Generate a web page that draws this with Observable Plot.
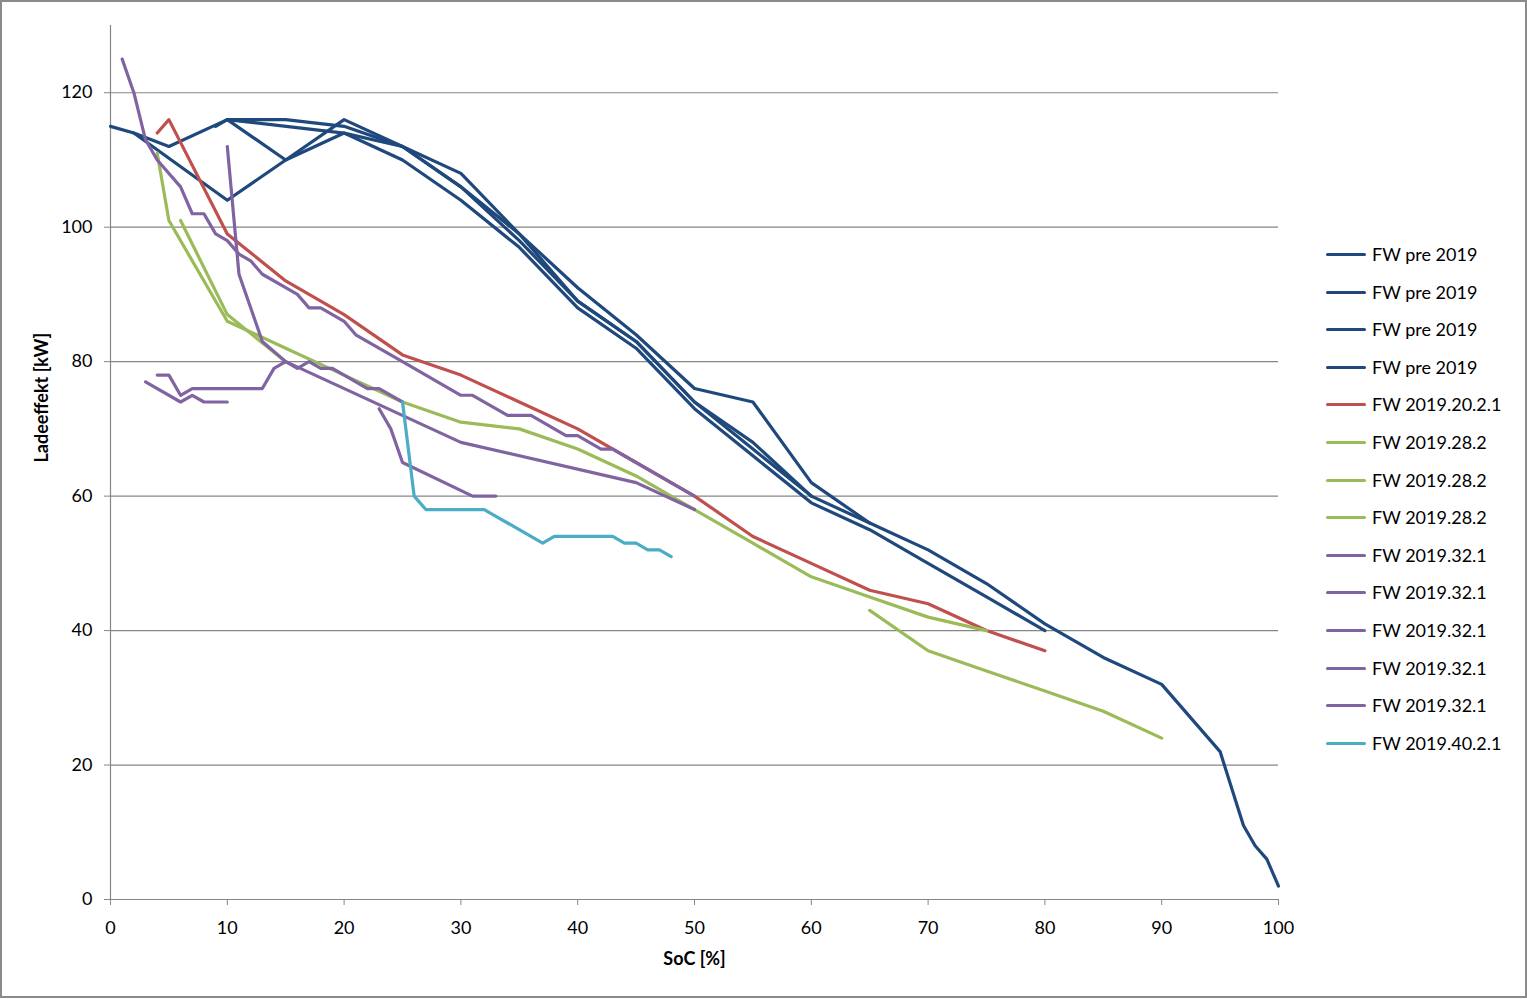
<!DOCTYPE html>
<html>
<head>
<meta charset="utf-8">
<script src="https://cdn.jsdelivr.net/npm/d3@7"></script>
<script src="https://cdn.jsdelivr.net/npm/@observablehq/plot@0.6"></script>
<style>
  html, body { margin: 0; padding: 0; background: #fff; }
  #wrap { position: relative; width: 1527px; height: 999px; font-family: Lato, "Noto Sans", sans-serif; }
  #chart { position: absolute; left: 0; top: 0; }
  #legend { position: absolute; left: 1326px; top: 0; }
  .item { position: absolute; left: 0; height: 24px; white-space: nowrap; font-size: 18px; line-height: 24px; color: #000; }
  .sw { position: absolute; left: 0; top: 11px; width: 40px; height: 3px; border-radius: 1.5px; }
  .lbl { position: absolute; left: 46px; top: 0; }
  #border { position: absolute; left: 0; top: 0; width: 1527px; height: 998px; box-sizing: border-box; border: 2px solid #8a8a8a; pointer-events: none; }
</style>
</head>
<body>
<div id="wrap">
  <div id="chart"></div>
  <div id="legend"></div>
  <div id="border"></div>
</div>
<script>
// ---- data: [SoC %, charging power kW] ----
const pre2019_a = [[0,115],[2,114],[5,112],[10,116],[15,116],[20,115],[25,112],[30,108],[35,99],[40,91],[45,84],[50,76],[55,74],[60,62],[65,56],[70,52],[75,47],[80,41],[85,36],[90,32],[95,22],[97,11],[98,8],[99,6],[100,2]];
const pre2019_b = [[2,114],[10,104],[15,110],[20,114],[25,110],[30,104],[35,97],[40,88],[45,82],[50,73],[55,66],[60,59],[65,55],[70,50],[75,45],[80,40]];
const pre2019_c = [[9,115],[10,116],[15,110],[20,116],[25,112],[30,106],[35,99],[40,89],[45,83],[50,74],[55,68],[60,60],[65,56]];
const pre2019_d = [[10,116],[20,114],[25,112],[30,106],[35,98],[40,89],[45,83],[50,74],[55,67],[60,60]];
const fw2019_20_2_1 = [[4,114],[5,116],[10,99],[15,92],[20,87],[25,81],[30,78],[35,74],[40,70],[45,65],[50,60],[55,54],[60,50],[65,46],[70,44],[75,40],[80,37]];
const fw2019_28_2_a = [[4,111],[5,101],[10,86],[15,82],[20,78],[25,74],[30,71],[35,70],[40,67],[45,63],[50,58],[55,53],[60,48],[65,45],[70,42],[75,40]];
const fw2019_28_2_b = [[6,101],[10,87],[15,80]];
const fw2019_28_2_c = [[65,43],[70,37],[75,34],[80,31],[85,28],[90,24]];
const fw2019_32_1_a = [[1,125],[2,120],[3,113],[4,110],[6,106],[7,102],[8,102],[9,99],[10,98],[11,96],[12,95],[13,93],[15,91],[16,90],[17,88],[18,88],[20,86],[21,84],[25,80],[26,79],[29,76],[30,75],[31,75],[34,72],[36,72],[39,69],[40,69],[42,67],[43,67],[50,60]];
const fw2019_32_1_b = [[10,112],[11,93],[13,83],[15,80],[30,68],[45,62],[50,58]];
const fw2019_32_1_c = [[3,77],[6,74],[7,75],[8,74],[10,74]];
const fw2019_32_1_d = [[4,78],[5,78],[6,75],[7,76],[13,76],[14,79],[15,80],[16,79],[17,80],[18,79],[19,79],[22,76],[23,76],[25,74]];
const fw2019_32_1_e = [[23,73],[24,70],[25,65],[31,60],[33,60]];
const fw2019_40_2_1 = [[25,74],[26,60],[27,58],[32,58],[33,57],[34,56],[37,53],[38,54],[43,54],[44,53],[45,53],[46,52],[47,52],[48,51]];

const seriesNames = ["FW pre 2019","FW pre 2019","FW pre 2019","FW pre 2019","FW 2019.20.2.1","FW 2019.28.2","FW 2019.28.2","FW 2019.28.2","FW 2019.32.1","FW 2019.32.1","FW 2019.32.1","FW 2019.32.1","FW 2019.32.1","FW 2019.40.2.1"];
const seriesData = [pre2019_a, pre2019_b, pre2019_c, pre2019_d, fw2019_20_2_1, fw2019_28_2_a, fw2019_28_2_b, fw2019_28_2_c, fw2019_32_1_a, fw2019_32_1_b, fw2019_32_1_c, fw2019_32_1_d, fw2019_32_1_e, fw2019_40_2_1];
const fwNames = ["FW pre 2019","FW 2019.20.2.1","FW 2019.28.2","FW 2019.32.1","FW 2019.40.2.1"];
const fwColors = ["#1F497D","#C0504D","#9BBB59","#8064A2","#4BACC6"];
const xTicks = [0,10,20,30,40,50,60,70,80,90,100];
const yTicks = [0,20,40,60,80,100,120];
const xLabel = "SoC [%]";
const yLabel = "Ladeeffekt [kW]";

// ---- build table ----
const colorOf = name => fwColors[fwNames.indexOf(name)];
const rows = [];
seriesData.forEach((pts, i) => pts.forEach(([soc, kw]) => rows.push({id: i, fw: seriesNames[i], soc, kw})));

const font = "Lato, 'Noto Sans', sans-serif";
const chart = Plot.plot({
  width: 1527,
  height: 999,
  marginLeft: 110,
  marginRight: 249,
  marginTop: 25,
  marginBottom: 100,
  style: {fontFamily: font, fontSize: "18px", color: "#000", background: "transparent"},
  x: {domain: [0, 100]},
  y: {domain: [0, 130]},
  marks: [
    Plot.ruleY(yTicks.filter(d => d > 0), {stroke: "#868686", strokeWidth: 1.2}),
    Plot.ruleY([0], {stroke: "#868686", strokeWidth: 1.2}),
    Plot.ruleX([0], {stroke: "#868686", strokeWidth: 1.2}),
    Plot.axisX({ticks: xTicks, tickSize: 6, tickPadding: 16, stroke: "#868686", fontSize: 18, label: null, tickFormat: d => String(d)}),
    Plot.axisY({ticks: yTicks, tickSize: 6, tickPadding: 12, stroke: "#868686", fontSize: 18, label: null, tickFormat: d => String(d)}),
    Plot.line(rows, {x: "soc", y: "kw", z: "id", stroke: d => colorOf(d.fw), strokeWidth: 3.2, strokeLinejoin: "round", strokeLinecap: "round"}),
    Plot.text([xLabel], {frameAnchor: "bottom", dy: 65, text: d => d, fontWeight: "bold", fontSize: 18}),
    Plot.text([yLabel], {frameAnchor: "left", dx: -68, rotate: -90, text: d => d, fontWeight: "bold", fontSize: 18})
  ]
});
document.getElementById("chart").appendChild(chart);

// ---- legend ----
const legend = document.getElementById("legend");
seriesNames.forEach((name, i) => {
  const item = document.createElement("div");
  item.className = "item";
  item.style.top = Math.round(254 + i * 37.6 - 12) + "px";
  const sw = document.createElement("span");
  sw.className = "sw";
  sw.style.background = colorOf(name);
  const t = document.createElement("span");
  t.className = "lbl";
  t.textContent = name;
  item.appendChild(sw);
  item.appendChild(t);
  legend.appendChild(item);
});
</script>
</body>
</html>
